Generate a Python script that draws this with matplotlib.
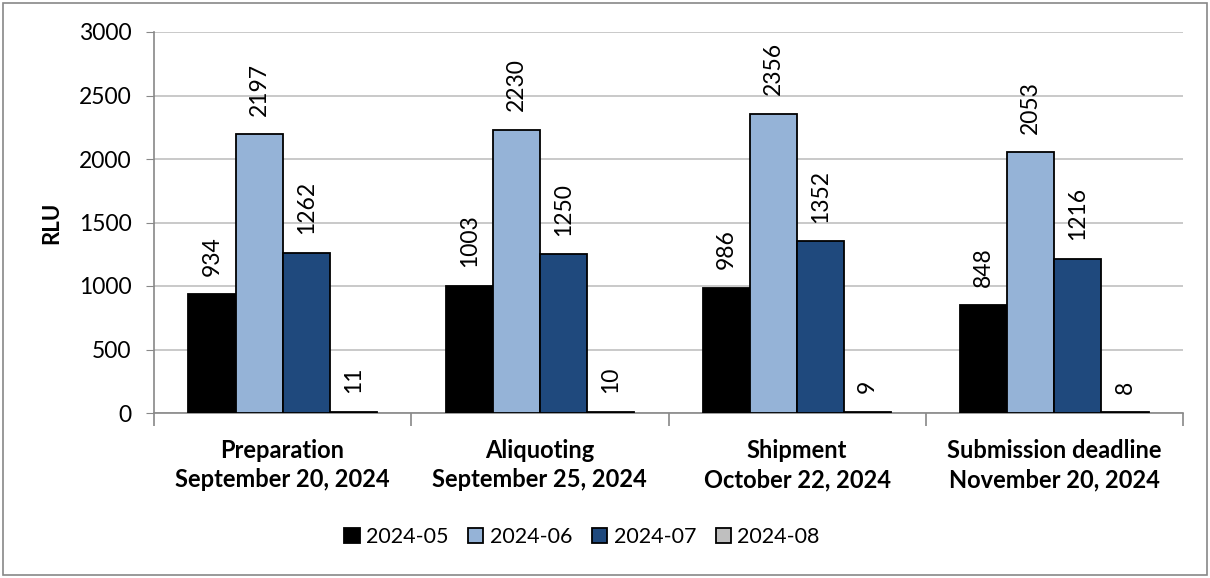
import numpy as np
import matplotlib.pyplot as plt
from matplotlib.patches import Rectangle

# Stage labels and monthly RLU values
stages = [
    "Preparation\nSeptember 20, 2024",
    "Aliquoting\nSeptember 25, 2024",
    "Shipment\nOctober 22, 2024",
    "Submission deadline\nNovember 20, 2024",
]
months = ["2024-05", "2024-06", "2024-07", "2024-08"]
rlu_2024_05 = [934, 1003, 986, 848]
rlu_2024_06 = [2197, 2230, 2356, 2053]
rlu_2024_07 = [1262, 1250, 1352, 1216]
rlu_2024_08 = [11, 10, 9, 8]

series = [rlu_2024_05, rlu_2024_06, rlu_2024_07, rlu_2024_08]
colors = ["#000000", "#95B3D7", "#1F497D", "#BFBFBF"]

plt.rcParams["font.family"] = ["Lato", "DejaVu Sans"]

fig = plt.figure(figsize=(12.1, 5.78), dpi=100)
ax = fig.add_axes([154 / 1210, 1 - 413 / 578, (1183 - 154) / 1210, (413 - 32) / 578])

x = np.arange(len(stages))
width = 0.183
offsets = (np.arange(len(series)) - 1.5) * width

for vals, off, col, name in zip(series, offsets, colors, months):
    bars = ax.bar(x + off, vals, width, color=col, edgecolor="black",
                  linewidth=1.3, label=name, zorder=3)
    for b, v in zip(bars, vals):
        ax.text(b.get_x() + b.get_width() / 2, v + 145, str(v), rotation=90,
                ha="center", va="bottom", fontsize=16.5, zorder=4)

ax.set_xlim(-0.5, 3.5)
ax.set_ylim(0, 3000)
ax.set_yticks(range(0, 3001, 500))
ax.tick_params(axis="y", labelsize=16.5, length=6, color="#888888", pad=10)

# category labels centred, separator ticks between groups
ax.set_xticks(x)
ax.set_xticklabels(stages, fontsize=17, fontweight="bold", linespacing=1.32)
ax.tick_params(axis="x", length=0, pad=19)
ax.set_xticks(np.arange(-0.5, 4, 1), minor=True)
ax.tick_params(axis="x", which="minor", length=9, color="#888888", width=1.2)

ax.grid(axis="y", color="#C0C0C0", linewidth=1.2, zorder=0)
for s in ["top", "right"]:
    ax.spines[s].set_visible(False)
for s in ["left", "bottom"]:
    ax.spines[s].set_color("#888888")
    ax.spines[s].set_linewidth(1.2)

ax.set_ylabel("RLU", fontsize=16, fontweight="bold", labelpad=12)

leg = fig.legend(loc="center", bbox_to_anchor=(582 / 1210, 1 - 537 / 578),
                 ncol=4, frameon=False, fontsize=15.5, handlelength=0.72,
                 handleheight=0.72, handletextpad=0.3, columnspacing=0.9)

# outer chart border
fig.patches.append(Rectangle((3 / 1210, 3 / 578), 1 - 6 / 1210, 1 - 6 / 578,
                             transform=fig.transFigure, fill=False,
                             edgecolor="#888888", linewidth=1.2))

fig.savefig("out.png", dpi=100)
